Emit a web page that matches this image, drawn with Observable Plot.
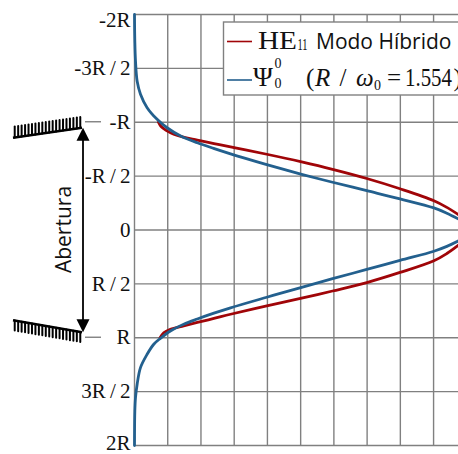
<!DOCTYPE html>
<html>
<head>
<meta charset="utf-8">
<script src="https://cdn.jsdelivr.net/npm/d3@7"></script>
<script src="https://cdn.jsdelivr.net/npm/@observablehq/plot@0.6"></script>
<style>
  html, body { margin: 0; padding: 0; background: #fff; }
  #chart svg { display: block; }
</style>
</head>
<body>
<div id="chart"></div>
<script>
// Transverse position across the horn aperture, in units of the aperture radius R
// (negative = upper half), and the field amplitude on the horizontal scale.

// Gaussian beam Ψ₀⁰ (R/ω₀ = 1.554)
const psiPos = [
  -2.0, -1.75, -1.57, -1.38, -1.26, -1.135, -1.027, -0.949, -0.872, -0.81,
  -0.758, -0.707, -0.664, -0.606, -0.517, -0.443, -0.365, -0.289, -0.205, -0.156, -0.1,
  0.1, 0.152, 0.197, 0.282, 0.366, 0.452, 0.532, 0.624, 0.722, 0.772, 0.826,
  0.875, 0.937, 1.005, 1.06, 1.153, 1.277, 1.431, 1.556, 1.68, 2.0
];
const psiAmp = [
  0.0, 0.01, 0.03, 0.08, 0.18, 0.38, 0.68, 0.98, 1.39, 1.89,
  2.38, 2.89, 3.34, 3.98, 5.03, 5.96, 6.99, 7.99, 9.01, 9.4, 9.76,
  9.76, 9.4, 9.01, 7.99, 6.99, 5.96, 5.03, 3.98, 2.89, 2.39, 1.89,
  1.48, 1.08, 0.78, 0.58, 0.38, 0.18, 0.08, 0.03, 0.01, 0.0
];

// Hybrid mode HE11, defined only inside the aperture (|pos| ≤ R)
const hePos = [
  -1.0, -0.96, -0.925, -0.89, -0.86, -0.835, -0.802, -0.771, -0.743, -0.703,
  -0.632, -0.563, -0.478, -0.383, -0.272, -0.21, -0.14,
  0.138, 0.218, 0.285, 0.394, 0.488, 0.566, 0.633, 0.704, 0.782, 0.821, 0.858,
  0.889, 0.921, 0.953, 1.0
];
const heAmp = [
  0.72, 0.8, 0.95, 1.18, 1.5, 1.89, 2.39, 2.89, 3.34, 3.98,
  5.03, 5.96, 6.99, 7.99, 9.01, 9.4, 9.76,
  9.76, 9.4, 9.01, 7.99, 6.99, 5.96, 5.03, 3.98, 2.89, 2.39, 1.89,
  1.48, 1.08, 0.88, 0.77
];

// Axis ticks
const posTicks = [-2, -1.5, -1, -0.5, 0, 0.5, 1, 1.5, 2];
const posLabels = ["-2R", "-3R\u2009/\u20092", "-R", "-R\u2009/\u20092", "0", "R\u2009/\u20092", "R", "3R\u2009/\u20092", "2R"];
const ampTicks = [0, 1, 2, 3, 4, 5, 6, 7, 8, 9];

// Legend text
const legendMode = { main: "HE", sub: "11", rest: "Modo Híbrido" };
const legendBeam = { ratio: "1.554" };
const apertureLabel = "Abertura";

const RED = "#a00508";
const BLUE = "#23608e";
const GRID = "#808080";

const rows = (pos, amp) => pos.map((p, i) => ({ pos: p, amp: amp[i], half: p < 0 ? "top" : "bottom" }));
const psi = rows(psiPos, psiAmp);
const he = rows(hePos, heAmp);
const fmt = d => posLabels[posTicks.indexOf(d)];

// Corrugated horn wall: a slanted base line with a comb of teeth on one side
function corrugation(g, x0, y0, x1, y1, teeth, toothLen) {
  g.append("line").attr("x1", x0).attr("y1", y0).attr("x2", x1).attr("y2", y1)
    .attr("stroke", "#000").attr("stroke-width", 2.3);
  for (let i = 0; i < teeth; i++) {
    const t = (i + 0.5) / teeth;
    const cx = x0 + (x1 - x0) * t, cy = y0 + (y1 - y0) * t;
    g.append("line").attr("x1", cx).attr("y1", cy).attr("x2", cx).attr("y2", cy + toothLen)
      .attr("stroke", "#000").attr("stroke-width", 2).attr("stroke-linecap", "round");
  }
}

// Horn walls, aperture arrow and its label, left of the axis
function hornSketch(index, scales) {
  const y = scales.y;
  const yTop = y(-1), yBot = y(1);
  const g = d3.create("svg:g");
  corrugation(g, 13, yTop + 16, 82, yTop + 6, 20, -11);
  corrugation(g, 13, yBot - 17, 82, yBot - 5, 20, 10);
  const ax = 83, head = 13, half = 6.5;
  const t0 = yTop + 6, t1 = yBot - 5;
  g.append("line").attr("x1", ax).attr("x2", ax).attr("y1", t0 + head - 2).attr("y2", t1 - head + 2)
    .attr("stroke", "#000").attr("stroke-width", 1.8);
  g.append("path").attr("d", `M${ax},${t0}L${ax - half},${t0 + head}L${ax + half},${t0 + head}Z`).attr("fill", "#000");
  g.append("path").attr("d", `M${ax},${t1}L${ax - half},${t1 - head}L${ax + half},${t1 - head}Z`).attr("fill", "#000");
  for (const yy of [yTop, yBot]) {
    g.append("line").attr("x1", 85).attr("x2", 101).attr("y1", yy).attr("y2", yy)
      .attr("stroke", GRID).attr("stroke-width", 1.4);
  }
  g.append("text")
    .attr("transform", `translate(70.5,${y(0)}) rotate(-90)`)
    .attr("text-anchor", "middle")
    .attr("font-family", "'Open Sans', sans-serif")
    .attr("font-size", 21)
    .attr("fill", "#111")
    .text(apertureLabel);
  return g.node();
}

// Legend box in the upper right corner
function legendBox() {
  const g = d3.create("svg:g").attr("text-anchor", "start");
  g.append("rect").attr("x", 223.5).attr("y", 22).attr("width", 260).attr("height", 73)
    .attr("fill", "#fff").attr("stroke", GRID).attr("stroke-width", 1.4);
  g.append("line").attr("x1", 227).attr("x2", 252).attr("y1", 41.5).attr("y2", 41.5).attr("stroke", RED).attr("stroke-width", 1.6);
  g.append("line").attr("x1", 227).attr("x2", 252).attr("y1", 80).attr("y2", 80).attr("stroke", BLUE).attr("stroke-width", 1.6);
  const serif = "'Liberation Serif', 'Times New Roman', serif";
  const sans = "'Open Sans', sans-serif";
  const t = (x, y, s, size, fam, extra = {}) => {
    const el = g.append("text").attr("x", x).attr("y", y).attr("font-size", size)
      .attr("font-family", fam).attr("fill", "#111").attr("text-anchor", "start").text(s);
    for (const k in extra) el.attr(k, extra[k]);
    return el;
  };
  t(258, 48.5, legendMode.main, 26, serif, { textLength: 39, lengthAdjust: "spacingAndGlyphs" });
  t(297.5, 49.5, legendMode.sub, 16, serif, { textLength: 10, lengthAdjust: "spacingAndGlyphs" });
  t(316, 48.5, legendMode.rest, 21, sans);
  t(253, 86, "Ψ", 27, serif);
  t(274.5, 68, "0", 14, serif);
  t(274.5, 88, "0", 14, serif);
  t(306, 86, "(", 25, serif);
  t(315, 86, "R", 25, serif, { "font-style": "italic" });
  t(339.5, 86, "/", 25, serif);
  t(356, 86, "ω", 25, serif, { "font-style": "italic" });
  t(374, 90, "0", 14, serif);
  t(387, 86, "=", 25, serif);
  t(405, 86, legendBeam.ratio, 25, serif, { textLength: 47, lengthAdjust: "spacingAndGlyphs" });
  t(453.5, 86, ")", 25, serif);
  return g.node();
}

const chart = Plot.plot({
  width: 458,
  height: 454,
  marginLeft: 134,
  marginRight: 0,
  marginTop: 14,
  marginBottom: 9,
  style: { fontFamily: "'Liberation Serif', 'Times New Roman', serif", fontSize: "21px", color: "#111", background: "#fff" },
  x: { domain: [0, 9.75], axis: null },
  y: { domain: [-2, 2], reverse: true, label: null },
  marks: [
    Plot.ruleX(ampTicks, { stroke: GRID, strokeWidth: 1.4, strokeOpacity: 1 }),
    Plot.ruleY(posTicks, { stroke: GRID, strokeWidth: 1.4, strokeOpacity: 1 }),
    Plot.axisY({ ticks: posTicks.filter(d => d !== -2 && d !== 2), tickFormat: fmt, tickSize: 0, tickPadding: 4, label: null }),
    Plot.axisY({ ticks: [-2], tickFormat: fmt, tickSize: 0, tickPadding: 4, dy: 6, label: null }),
    Plot.axisY({ ticks: [2], tickFormat: fmt, tickSize: 0, tickPadding: 4, dy: -2, label: null }),
    Plot.line(he, { x: "amp", y: "pos", z: "half", stroke: RED, strokeWidth: 2.8, curve: "catmull-rom" }),
    Plot.line(psi, { x: "amp", y: "pos", z: "half", stroke: BLUE, strokeWidth: 2.8, curve: "catmull-rom" }),
    hornSketch,
    legendBox
  ]
});

document.getElementById("chart").appendChild(chart);
</script>
</body>
</html>
